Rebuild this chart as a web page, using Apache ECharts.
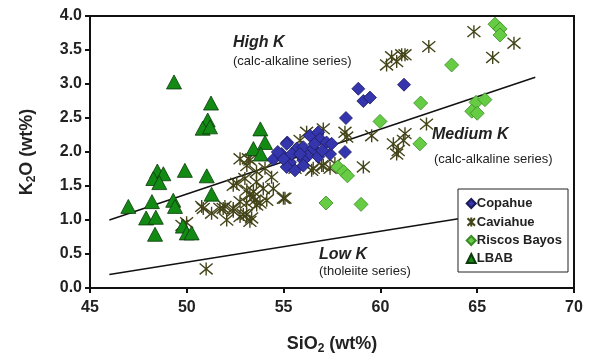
<!DOCTYPE html>
<html>
<head>
<meta charset="utf-8">
<script src="https://cdn.jsdelivr.net/npm/echarts@6/dist/echarts.min.js"></script>
<style>
html,body{margin:0;padding:0;background:#fff;}
#chart{width:593px;height:360px;}
</style>
</head>
<body>
<div id="chart"></div>
<script>
// SiO2 / K2O pairs
var copahue = [[58.86,2.93],[59.12,2.75],[59.46,2.8],[61.22,2.99],[58.22,2.5],[58.17,2.0],[55.19,2.14],[54.47,1.89],
  [56.36,2.24],[56.79,2.29],[56.88,2.19],[57.22,2.14],[55.68,2.05],[56.02,2.07],[56.28,1.95],[55.33,1.85],[56.02,1.88],
  [56.79,1.93],[54.9,1.97],[55.42,1.97],[57.4,1.97],[55.16,1.78],[55.59,1.73],[56.02,1.8],[54.99,1.9],[55.85,1.97],
  [56.53,2.05],[57.48,2.12],[54.7,2.0],[56.6,2.12],[57.0,2.02],[55.16,2.12]];
var caviahue = [[51.0,0.28],[50.77,1.2],[51.28,1.1],[51.88,1.17],[52.4,1.17],[52.75,1.05],[53.35,1.03],[53.61,1.22],
  [53.09,1.25],[52.06,1.0],[49.99,0.96],[49.75,0.92],[52.58,1.54],[53.1,1.44],[53.44,1.34],[53.6,1.56],[53.18,1.9],
  [53.6,1.71],[52.4,1.13],[52.75,1.27],[53.09,1.08],[53.26,1.37],[53.78,1.25],[52.4,1.51],[53.0,1.61],[53.44,1.42],
  [53.95,1.46],[54.47,1.46],[54.99,1.32],[54.04,1.76],[54.38,1.63],[53.26,1.88],[55.59,1.76],[56.02,1.83],[56.45,1.73],
  [56.97,1.8],[57.4,1.76],[56.19,2.29],[57.05,2.34],[58.17,2.29],[57.65,1.83],[52.75,1.9],[53.1,1.8],[55.07,1.32],
  [59.12,1.78],[60.84,1.97],[60.92,2.02],[60.67,2.12],[61.19,2.17],[61.27,2.27],[56.53,1.76],[57.05,1.8],[58.26,2.22],
  [59.55,2.24],[60.58,3.4],[61.1,3.43],[60.32,3.28],[60.84,3.33],[61.27,3.43],[62.5,3.55],[62.38,2.41],[64.83,3.77],
  [66.9,3.6],[65.8,3.39],[53.52,1.29],[54.13,1.29],[52.92,1.08],[53.26,0.98],[51.97,1.2],[51.71,1.17],[50.85,1.17],
  [55.85,2.17]];
var riscosBayos = [[65.92,3.88],[66.18,3.81],[66.18,3.72],[63.68,3.28],[64.94,2.73],[65.4,2.77],[64.72,2.6],[65.0,2.57],
  [62.08,2.72],[59.98,2.45],[62.04,2.12],[57.8,1.78],[58.1,1.71],[58.3,1.65],[57.19,1.25],[59.0,1.23]];
var lbab = [[46.98,1.2],[47.9,1.03],[48.4,1.04],[48.36,0.79],[48.2,1.27],[49.3,1.29],[49.39,1.2],[48.48,1.72],
  [48.79,1.68],[48.27,1.61],[48.58,1.55],[49.9,1.73],[51.03,1.65],[51.28,1.38],[49.8,0.91],[50.0,0.81],[50.25,0.81],
  [49.34,3.03],[51.25,2.72],[51.08,2.47],[50.82,2.35],[51.2,2.37],[53.8,2.34],[54.04,2.14],[53.44,2.05],[53.82,1.97]];
var highMedLine = [[46,1.0],[68,3.1]];
var medLowLine = [[46,0.2],[68,1.2]];
var seriesNames = ['Copahue','Caviahue','Riscos Bayos','LBAB'];

var myChart = echarts.init(document.getElementById('chart'));
var starPath = 'path://M0,0L10,10M10,0L0,10M5,-1L5,11';
var font = 'Arial, "Liberation Sans", sans-serif';

var option = {
  animation: false,
  grid: {left: 90, right: 19, top: 16, bottom: 69, show: true, borderColor: '#111', borderWidth: 2},
  legend: {
    data: seriesNames,
    orient: 'vertical', left: 458, top: 189,
    padding: [8, 6, 7, 7], itemGap: 5, itemWidth: 9, itemHeight: 9,
    backgroundColor: '#fff', borderColor: '#222', borderWidth: 1,
    textStyle: {fontFamily: font, fontWeight: 'bold', fontSize: 13, color: '#222', padding: [0,0,0,-4]}
  },
  xAxis: {
    type: 'value', min: 45, max: 70, interval: 5,
    name: '{a|SiO}{s|2}{a| (wt%)}', nameLocation: 'middle', nameGap: 45,
    nameTextStyle: {rich: {
      a: {fontFamily: font, fontWeight: 'bold', fontSize: 18, color: '#222'},
      s: {fontFamily: font, fontWeight: 'bold', fontSize: 12, color: '#222', padding: [10,0,0,0]}
    }},
    axisLine: {lineStyle: {color: '#111', width: 2}},
    axisTick: {inside: false, length: 5, lineStyle: {color: '#111', width: 2}},
    axisLabel: {fontFamily: font, fontWeight: 'bold', fontSize: 16, color: '#222', margin: 12},
    splitLine: {show: false}
  },
  yAxis: {
    type: 'value', min: 0, max: 4, interval: 0.5,
    name: '{a|K}{s|2}{a|O (wt%)}', nameLocation: 'middle', nameGap: 52, nameRotate: 90,
    nameTextStyle: {rich: {
      a: {fontFamily: font, fontWeight: 'bold', fontSize: 18, color: '#222'},
      s: {fontFamily: font, fontWeight: 'bold', fontSize: 12, color: '#222', padding: [10,0,0,0]}
    }},
    axisLine: {lineStyle: {color: '#111', width: 2}},
    axisTick: {inside: false, length: 5, lineStyle: {color: '#111', width: 2}},
    axisLabel: {fontFamily: font, fontWeight: 'bold', fontSize: 16, color: '#222', margin: 8,
      formatter: function (v) { return v.toFixed(1); }},
    splitLine: {show: false}
  },
  graphic: [
    {type: 'text', left: 233, top: 35, style: {text: 'High K', font: 'italic bold 16px ' + font, fill: '#222'}},
    {type: 'text', left: 233, top: 55, style: {text: '(calc-alkaline series)', font: '13px ' + font, fill: '#222'}},
    {type: 'text', left: 432, top: 127, style: {text: 'Medium K', font: 'italic bold 16px ' + font, fill: '#222'}},
    {type: 'text', left: 434, top: 153, style: {text: '(calc-alkaline series)', font: '13px ' + font, fill: '#222'}},
    {type: 'text', left: 319, top: 247, style: {text: 'Low K', font: 'italic bold 16px ' + font, fill: '#222'}},
    {type: 'text', left: 319, top: 265, style: {text: '(tholeiite series)', font: '13px ' + font, fill: '#222'}}
  ],
  series: [
    {name: 'boundary1', type: 'line', data: highMedLine, symbol: 'none', silent: true,
      lineStyle: {color: '#111', width: 1.5}, z: 1},
    {name: 'boundary2', type: 'line', data: medLowLine, symbol: 'none', silent: true,
      lineStyle: {color: '#111', width: 1.5}, z: 1},
    {name: 'Caviahue', type: 'scatter', data: caviahue, symbol: starPath, symbolSize: 13,
      itemStyle: {color: 'none', borderColor: '#45451a', borderWidth: 1.4, opacity: 1}, z: 2},
    {name: 'LBAB', type: 'scatter', data: lbab, symbol: 'triangle', symbolSize: [15, 14],
      itemStyle: {color: '#138a13', borderColor: '#0b3a0b', borderWidth: 0.8, opacity: 1}, z: 3},
    {name: 'Riscos Bayos', type: 'scatter', data: riscosBayos, symbol: 'diamond', symbolSize: 14,
      itemStyle: {color: '#66cc44', borderColor: '#3a8a25', borderWidth: 0.8, opacity: 1}, z: 3},
    {name: 'Copahue', type: 'scatter', data: copahue, symbol: 'diamond', symbolSize: 13,
      itemStyle: {color: '#3535ad', borderColor: '#1a1a5a', borderWidth: 0.8, opacity: 1}, z: 4}
  ]
};
myChart.setOption(option);
</script>
</body>
</html>
